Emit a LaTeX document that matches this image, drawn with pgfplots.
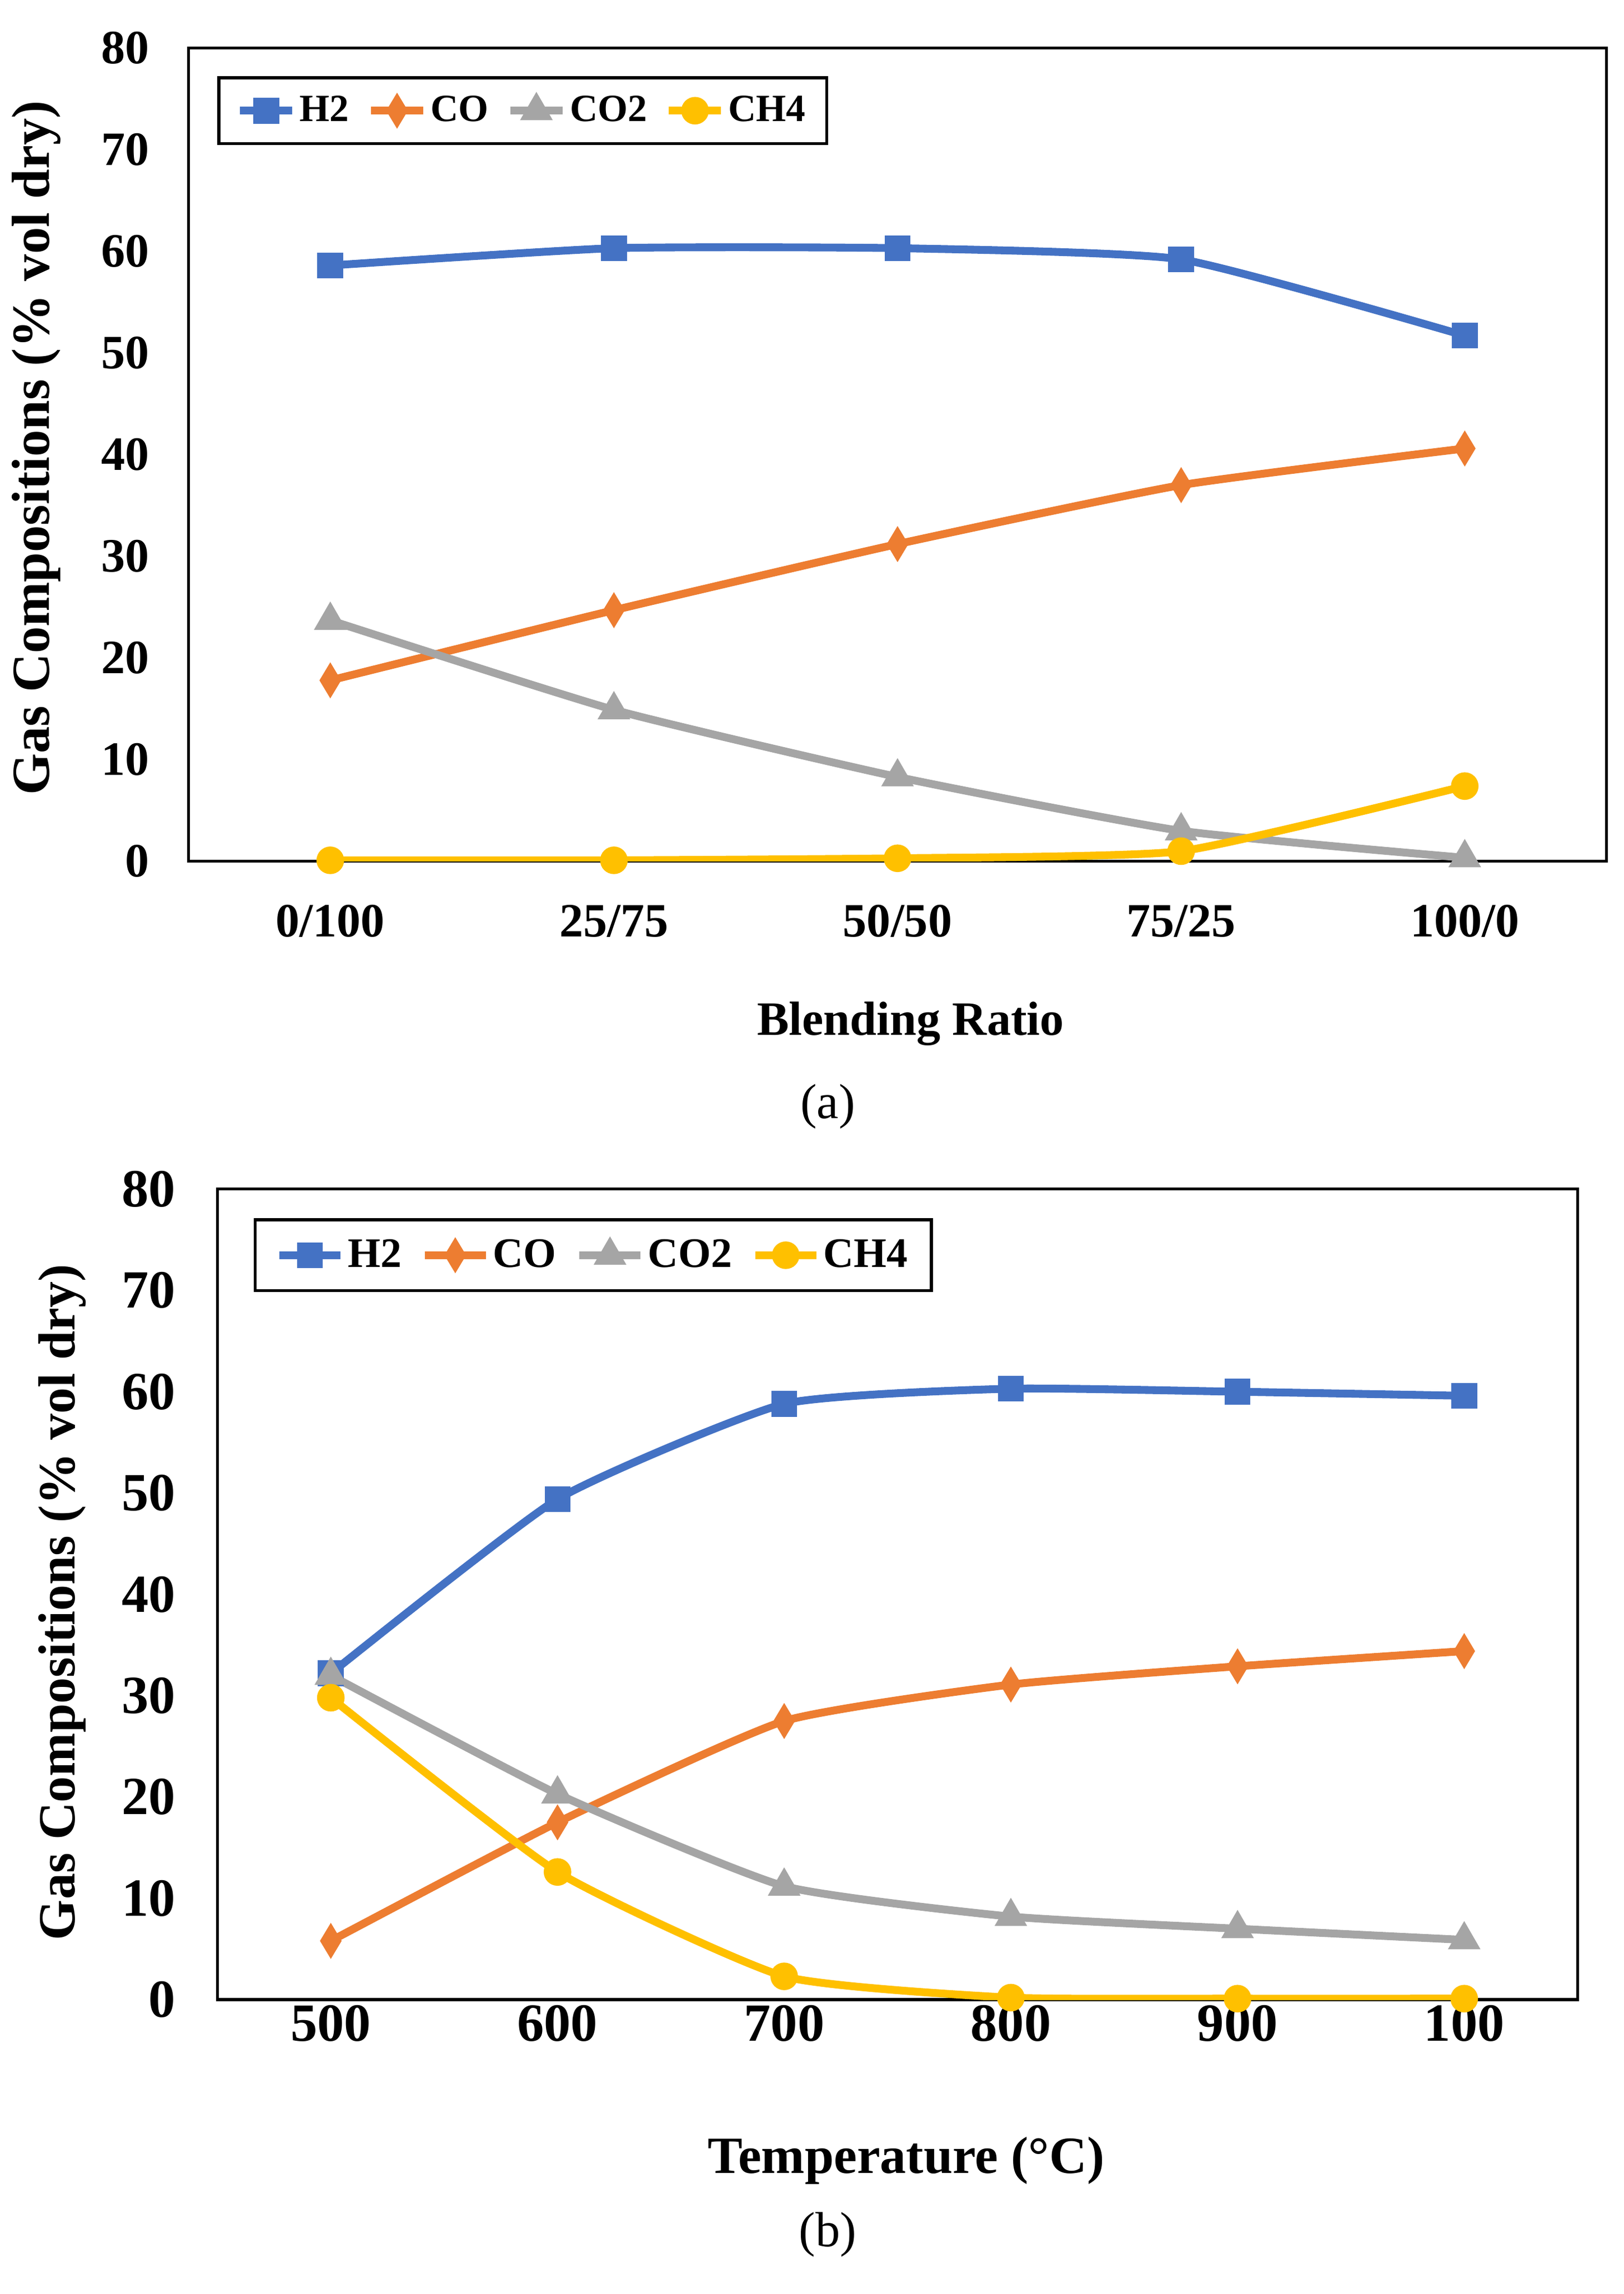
\documentclass[border=0pt]{standalone}
\usepackage{pgfplots}
\pgfplotsset{compat=1.18}
\usepackage{fontspec}
\setmainfont{Liberation Serif}
\definecolor{cH}{HTML}{4472C4}
\definecolor{cCO}{HTML}{ED7D31}
\definecolor{cCOt}{HTML}{A5A5A5}
\definecolor{cCH}{HTML}{FFC000}
\pgfplotsset{
  gasstyle/.style={
    scale only axis,
    axis line style={line width=1pt},
    ymin=0, ymax=80, ytick={0,10,...,80},
    tick style={draw=none},
    major tick length=0pt,
    /pgf/number format/assume math mode=true,
    legend columns=4,
    legend cell align=left,
    every axis plot/.append style={line width=2.7pt, smooth, tension=0.3},
  },
  sH/.style={cH, mark=square*, mark size=3.1pt, mark options={solid}},
  sCO/.style={cCO, mark=diamond*, mark size=3.6pt, mark options={solid, xscale=0.8}},
  sCOt/.style={cCOt, mark=triangle*, mark size=3.8pt, mark options={solid}},
  sCH/.style={cCH, mark=*, mark size=3.4pt, mark options={solid}},
}
\begin{document}
\begin{tikzpicture}
\path (0pt,0pt) rectangle (560pt,-791pt);
% ---------- (a) ----------
\begin{axis}[gasstyle,
  at={(65pt,-297pt)}, anchor=south west,
  width=489pt, height=280.5pt,
  xmin=-0.5, xmax=4.5,
  xtick={0,1,2,3,4},
  xticklabels={0/100,25/75,50/50,75/25,100/0},
  xticklabel style={font=\fontsize{16.5}{18}\selectfont\bfseries, yshift=-11.5pt},
  yticklabel style={font=\fontsize{16.5}{18}\selectfont\bfseries, xshift=-10pt},
  legend image code/.code={\draw[mark repeat=2,mark phase=2,#1] plot coordinates {(0pt,0pt) (9pt,0pt) (18pt,0pt)};},
  legend style={at={(0.0204,0.965)}, anchor=north west, draw=black, line width=1pt,
    font=\fontsize{13.3}{15}\selectfont\bfseries, inner xsep=6pt, inner ysep=5pt,
    /tikz/every even column/.append style={column sep=5pt},
    nodes={inner sep=1.2pt}},
]
\addplot[sH] coordinates {(0,58.6) (1,60.3) (2,60.3) (3,59.2) (4,51.7)};
\addlegendentry{H2}
\addplot[sCO] coordinates {(0,17.8) (1,24.7) (2,31.2) (3,37.0) (4,40.6)};
\addlegendentry{CO}
\addplot[sCOt] coordinates {(0,23.7) (1,14.9) (2,8.3) (3,3.0) (4,0.35)};
\addlegendentry{CO2}
\addplot[sCH] coordinates {(0,0.1) (1,0.1) (2,0.3) (3,1.0) (4,7.4)};
\addlegendentry{CH4}
\end{axis}
\node[font=\fontsize{16.5}{18}\selectfont\bfseries] at (314pt,-353pt) {Blending Ratio};
\node[font=\fontsize{18.5}{20}\selectfont\bfseries, rotate=90] at (12.5pt,-154.5pt) {Gas Compositions (\% vol dry)};
\node[font=\fontsize{17}{19}\selectfont] at (285.5pt,-381.5pt) {(a)};
% ---------- (b) ----------
\begin{axis}[gasstyle,
  at={(75pt,-689.5pt)}, anchor=south west,
  width=469pt, height=279.5pt,
  xmin=-0.5, xmax=5.5,
  xtick={0,1,2,3,4,5},
  xticklabels={500,600,700,800,900,100},
  xticklabel style={font=\fontsize{18.5}{20}\selectfont\bfseries, yshift=1.5pt},
  yticklabel style={font=\fontsize{18.5}{20}\selectfont\bfseries, xshift=-11pt},
  legend image code/.code={\draw[mark repeat=2,mark phase=2,#1] plot coordinates {(0pt,0pt) (10.5pt,0pt) (21pt,0pt)};},
  legend style={at={(0.0267,0.964)}, anchor=north west, draw=black, line width=1pt,
    font=\fontsize{14.5}{16}\selectfont\bfseries, inner xsep=7pt, inner ysep=5.5pt,
    /tikz/every even column/.append style={column sep=5.5pt},
    nodes={inner sep=1.2pt}},
]
\addplot[sH] coordinates {(0,32.2) (1,49.4) (2,58.8) (3,60.3) (4,60.0) (5,59.6)};
\addlegendentry{H2}
\addplot[sCO] coordinates {(0,5.8) (1,17.5) (2,27.5) (3,31.1) (4,32.9) (5,34.4)};
\addlegendentry{CO}
\addplot[sCOt] coordinates {(0,32.0) (1,20.3) (2,11.2) (3,8.2) (4,7.0) (5,5.9)};
\addlegendentry{CO2}
\addplot[sCH] coordinates {(0,29.8) (1,12.6) (2,2.3) (3,0.2) (4,0.1) (5,0.1)};
\addlegendentry{CH4}
\end{axis}
\node[font=\fontsize{18}{20}\selectfont\bfseries] at (312.5pt,-745pt) {Temperature (°C)};
\node[font=\fontsize{18}{20}\selectfont\bfseries, rotate=90] at (21.5pt,-552.5pt) {Gas Compositions (\% vol dry)};
\node[font=\fontsize{17}{19}\selectfont] at (285.5pt,-770.5pt) {(b)};
\end{tikzpicture}
\end{document}
